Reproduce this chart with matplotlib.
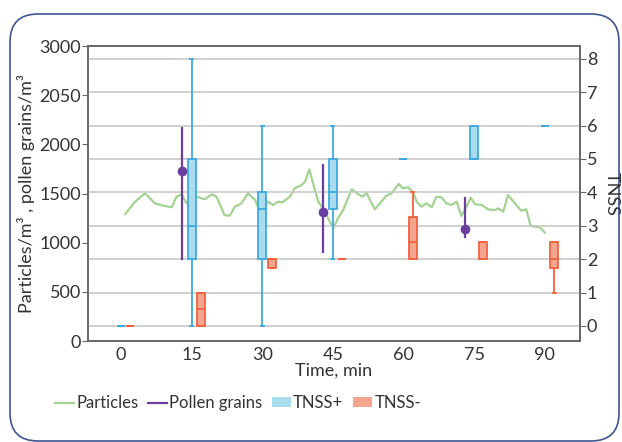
import matplotlib
matplotlib.use("Agg")
import matplotlib.pyplot as plt
from matplotlib.lines import Line2D
from matplotlib.patches import Patch, FancyBboxPatch

plt.rcParams['font.family'] = ['Lato', 'DejaVu Sans']

# ---- data ----
particle_time = [0.9, 3.0, 5.1, 7.2, 9.0, 10.8, 11.8, 12.9, 13.9, 16.0, 17.8, 19.3, 20.3,
                 22.0, 23.1, 24.2, 25.6, 27.0, 28.5, 29.4, 31.3, 32.3, 33.4, 34.3, 35.9,
                 36.9, 38.4, 39.1, 40.0, 40.8, 41.9, 43.0, 44.0, 45.1, 46.1, 47.2, 49.0,
                 50.0, 51.2, 52.2, 53.9, 55.3, 56.4, 57.5, 59.0, 59.9, 61.0, 62.1, 62.8,
                 63.8, 64.9, 66.0, 67.0, 68.1, 69.1, 70.2, 71.3, 72.3, 73.4, 74.3, 75.2,
                 76.6, 78.0, 79.4, 80.1, 81.2, 82.2, 83.7, 85.0, 86.1, 87.0, 89.0, 90.0]
particle_vals = [1291, 1417, 1502, 1400, 1376, 1360, 1468, 1492, 1400, 1468, 1441, 1492, 1468,
                 1281, 1274, 1366, 1400, 1502, 1434, 1330, 1417, 1383, 1417, 1410, 1468,
                 1553, 1587, 1620, 1746, 1604, 1417, 1340, 1248, 1146, 1248, 1332, 1543,
                 1508, 1468, 1502, 1339, 1417, 1478, 1502, 1597, 1553, 1563, 1508, 1417,
                 1366, 1400, 1360, 1468, 1461, 1400, 1383, 1417, 1271, 1366, 1458, 1390,
                 1383, 1339, 1332, 1349, 1315, 1485, 1400, 1325, 1339, 1170, 1156, 1105]

pollen_time = [13, 43, 73]
pollen_med = [1728, 1311, 1135]
pollen_min = [833, 905, 1054]
pollen_max = [2165, 1789, 1450]

box_time = [0, 15, 30, 45, 60, 75, 90]
# TNSS+ five-number summaries
tp_lo = [0, 0, 0, 2, 5, 5, 6]
tp_q1 = [0, 2, 2, 3.5, 5, 5, 6]
tp_med = [0, 3, 3.5, 4, 5, 5, 6]
tp_q3 = [0, 5, 4, 5, 5, 6, 6]
tp_hi = [0, 8, 6, 6, 5, 6, 6]
# TNSS- five-number summaries
tm_lo = [0, 0, 1.75, 2, 2, 2, 1]
tm_q1 = [0, 0, 1.75, 2, 2, 2, 1.75]
tm_med = [0, 0.5, 2, 2, 2.5, 2, 2]
tm_q3 = [0, 1, 2, 2, 3.25, 2.5, 2.5]
tm_hi = [0, 1, 2, 2, 4, 2.5, 2.5]

left_ticks = [0, 500, 1000, 1500, 2000, 2500, 3000]
left_labels = ["0", "500", "1000", "1500", "2000", "2050", "3000"]
x_ticks = [0, 15, 30, 45, 60, 75, 90]
right_ticks = [0, 1, 2, 3, 4, 5, 6, 7, 8]

# ---- styles ----
c_part = '#a3d393'
c_pol = '#6a3fa0'
c_tp_face, c_tp_edge = '#a9dcec', '#3ea9e2'
c_tm_face, c_tm_edge = '#f5a48e', '#f0623e'
c_text = '#333333'
c_spine = '#666666'
fs = 13

W, H = 622, 442
fig = plt.figure(figsize=(W / 100, H / 100), dpi=100)

# rounded frame
bg = fig.add_axes([0, 0, 1, 1])
bg.set_xlim(0, W)
bg.set_ylim(H, 0)
bg.axis('off')
bg.add_patch(FancyBboxPatch((10, 14), 609, 427, boxstyle="round,pad=0,rounding_size=28",
                            fc='white', ec='#3d5590', lw=1.2))

ax = fig.add_axes([88 / W, 1 - 341 / H, (580 - 88) / W, (341 - 46) / H])
ax.patch.set_alpha(0)
ax2 = ax.twinx()

ax.set_xlim(-7, 97.5)
ax.set_ylim(0, 3000)
ax2.set_ylim(-0.45, 8.38)

# gridlines (right axis)
ax2.set_yticks(right_ticks)
ax2.grid(axis='y', color='#c8c8c8', lw=1.2)
ax2.set_axisbelow(True)

# particles
ax.plot(particle_time, particle_vals, color=c_part, lw=1.6, zorder=2)

# boxes
def stats(lo, q1, med, q3, hi):
    return [dict(whislo=a, q1=b, med=c, q3=d, whishi=e) for a, b, c, d, e in zip(lo, q1, med, q3, hi)]

tp_pos = [t for t in box_time]
tm_pos = [t + 2 for t in box_time]
ax2.bxp(stats(tp_lo, tp_q1, tp_med, tp_q3, tp_hi), positions=tp_pos, widths=1.7,
        showfliers=False, patch_artist=True, manage_ticks=False,
        boxprops=dict(facecolor=c_tp_face, edgecolor=c_tp_edge, lw=1.3),
        medianprops=dict(color=c_tp_edge, lw=1.3),
        whiskerprops=dict(color=c_tp_edge, lw=1.3),
        capprops=dict(color=c_tp_edge, lw=1.3), capwidths=0.6, zorder=3)
ax2.bxp(stats(tm_lo, tm_q1, tm_med, tm_q3, tm_hi), positions=tm_pos, widths=1.7,
        showfliers=False, patch_artist=True, manage_ticks=False,
        boxprops=dict(facecolor=c_tm_face, edgecolor=c_tm_edge, lw=1.3),
        medianprops=dict(color=c_tm_edge, lw=1.3),
        whiskerprops=dict(color=c_tm_edge, lw=1.3),
        capprops=dict(color=c_tm_edge, lw=1.3), capwidths=0.6, zorder=3)

# pollen (drawn on top via ax2 using left-axis transform)
for t, md, lo, hi in zip(pollen_time, pollen_med, pollen_min, pollen_max):
    ax2.plot([t, t], [lo, hi], color=c_pol, lw=1.6, transform=ax.transData, zorder=4)
    ax2.plot([t], [md], 'o', color=c_pol, ms=6, transform=ax.transData, zorder=5)

# axes styling
ax.set_xticks(x_ticks)
ax.set_yticks(left_ticks)
ax.set_yticklabels(left_labels)
for a in (ax, ax2):
    for s in a.spines.values():
        s.set_color(c_spine)
        s.set_linewidth(1.2)
ax.tick_params(axis='y', length=4, color=c_spine, labelsize=fs, labelcolor=c_text, pad=1)
ax.tick_params(axis='x', length=0, labelsize=fs, labelcolor=c_text, pad=4)
ax2.tick_params(axis='y', length=4, color=c_spine, labelsize=fs, labelcolor=c_text, pad=1)

ax.set_xlabel("Time, min", fontsize=fs, color=c_text, labelpad=0)
ax.set_ylabel("Particles/m³ , pollen grains/m³", fontsize=fs, color=c_text, labelpad=3)
ax2.set_ylabel("TNSS", fontsize=fs, color=c_text, rotation=270, labelpad=16)

handles = [Line2D([], [], color=c_part, lw=1.6),
           Line2D([], [], color=c_pol, lw=1.6),
           Patch(facecolor=c_tp_face, edgecolor='none'),
           Patch(facecolor=c_tm_face, edgecolor='none')]
labels = ["Particles", "Pollen grains", "TNSS+", "TNSS-"]
fig.legend(handles, labels, loc='center', bbox_to_anchor=(0.383, 0.088), ncol=4,
           frameon=False, fontsize=12, handlelength=1.1, handleheight=0.5,
           handletextpad=0.15, columnspacing=0.6, labelcolor=c_text)

fig.savefig("out.png", dpi=100)
